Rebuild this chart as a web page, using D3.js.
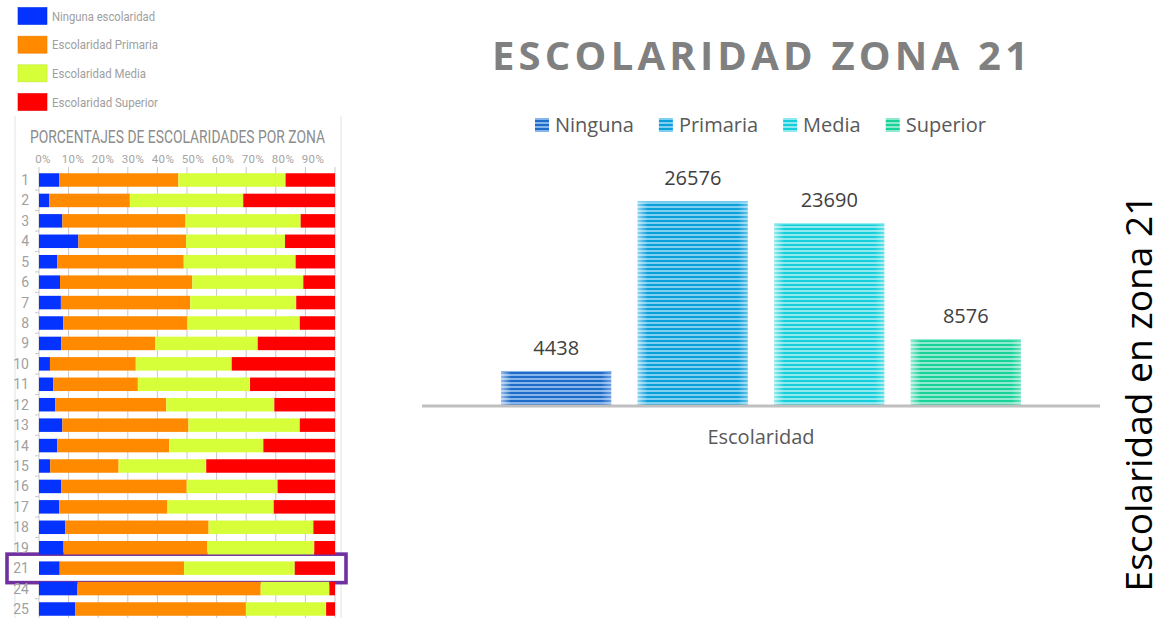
<!DOCTYPE html>
<html>
<head>
<meta charset="utf-8">
<script src="https://cdn.jsdelivr.net/npm/d3@7"></script>
<style>
  html, body { margin: 0; padding: 0; background: #fff; }
  svg { display: block; }
  .narrow { font-family: "Liberation Sans Narrow", "Roboto", "DejaVu Sans Condensed", sans-serif; }
  .sans { font-family: "Open Sans", "Noto Sans", sans-serif; }
</style>
</head>
<body>
<svg id="chart" width="1164" height="618"></svg>
<script>
// ---- Stacked percentages per zone (left panel) ----
const zones = ["1","2","3","4","5","6","7","8","9","10","11","12","13","14","15","16","17","18","19","21","24","25"];
const pctNinguna  = [6.9, 3.5, 7.9, 13.3, 6.2, 7.1, 7.4, 8.2, 7.5, 3.7, 4.8, 5.5, 7.9, 6.2, 3.8, 7.5, 6.8, 8.9, 8.3, 7.0, 13.0, 12.3];
const pctPrimaria = [40.2, 27.2, 41.6, 36.4, 42.7, 44.7, 43.7, 41.9, 31.7, 29.0, 28.6, 37.5, 42.6, 37.8, 23.1, 42.4, 36.6, 48.4, 48.6, 42.0, 61.9, 57.6];
const pctMedia    = [36.2, 38.3, 38.9, 33.4, 37.8, 37.5, 35.8, 38.0, 34.7, 32.4, 37.9, 36.5, 37.6, 31.8, 29.6, 30.7, 35.9, 35.4, 36.1, 37.4, 23.2, 27.1];
const pctSuperior = [16.7, 31.0, 11.6, 16.9, 13.3, 10.7, 13.1, 11.9, 26.1, 34.9, 28.7, 20.5, 11.9, 24.2, 43.5, 19.4, 20.7, 7.3, 7.0, 13.6, 1.9, 3.0];
const stackKeys   = ["ninguna", "primaria", "media", "superior"];
const stackNames  = ["Ninguna escolaridad", "Escolaridad Primaria", "Escolaridad Media", "Escolaridad Superior"];
const stackColors = ["#0433ff", "#ff8a00", "#d6ff3a", "#ff0000"];
const pctTicks    = [0, 10, 20, 30, 40, 50, 60, 70, 80, 90];
const highlightZone = "21";

// ---- Zone 21 counts (right panel) ----
const levels = ["Ninguna", "Primaria", "Media", "Superior"];
const counts = [4438, 26576, 23690, 8576];
const darkStripe  = ["#1f6cc8", "#0ca0db", "#15d0da", "#17d299"];
const lightStripe = ["#86b5ec", "#7fd0f0", "#8fe9ee", "#8fe9cc"];

const svg = d3.select("#chart");
const defs = svg.append("defs");

/* ================= Left panel ================= */
const left = svg.append("g");

// frame edges of the panel
[15, 341].forEach(x => left.append("line")
  .attr("x1", x).attr("x2", x).attr("y1", 116).attr("y2", 618)
  .attr("stroke", "#e2e2e2").attr("stroke-width", 1));

// legend (condensed labels)
const legY = d3.scalePoint().domain(stackKeys).range([15.5, 101.5]);
const legWidths = [103, 106, 94, 106];
stackKeys.forEach((k, i) => {
  left.append("rect")
    .attr("x", 18).attr("y", legY(k) - 8).attr("width", 29).attr("height", 17)
    .attr("fill", stackColors[i])
    .attr("stroke", d3.color(stackColors[i]).darker(0.3)).attr("stroke-width", 0.6);
  left.append("text").attr("class", "narrow")
    .attr("x", 52).attr("y", legY(k) + 5)
    .attr("font-size", 13).attr("fill", "#a0a0a0")
    .attr("textLength", legWidths[i]).attr("lengthAdjust", "spacingAndGlyphs")
    .text(stackNames[i]);
});

left.append("text").attr("class", "narrow")
  .attr("x", 30).attr("y", 143)
  .attr("font-size", 18).attr("fill", "#8c8c8c")
  .attr("textLength", 295).attr("lengthAdjust", "spacingAndGlyphs")
  .text("PORCENTAJES DE ESCOLARIDADES POR ZONA");

const xPct = d3.scaleLinear().domain([0, 100]).range([39, 335]);
const yZone = d3.scalePoint().domain(zones).range([180, 609]);
const barH = 13.5;

// gridlines
left.append("g").selectAll("line")
  .data(d3.range(0, 101, 10)).join("line")
  .attr("x1", d => xPct(d)).attr("x2", d => xPct(d))
  .attr("y1", 167).attr("y2", 618)
  .attr("stroke", "#c9c9c9").attr("stroke-width", 1);

// small row ticks on the left
left.append("g").selectAll("line")
  .data(zones.slice(1)).join("line")
  .attr("x1", 35).attr("x2", 39)
  .attr("y1", d => yZone(d) - yZone.step() / 2).attr("y2", d => yZone(d) - yZone.step() / 2)
  .attr("stroke", "#c9c9c9");

// percentage tick labels
left.append("g").selectAll("text")
  .data(pctTicks).join("text").attr("class", "narrow")
  .attr("x", d => xPct(d) + 4 + d * 0.04).attr("y", 163)
  .attr("text-anchor", "middle")
  .attr("font-size", 11.5).attr("fill", "#a3a3a3").attr("letter-spacing", 0.4)
  .text(d => d + "%");

// highlight box behind zone 21
const hy = yZone(highlightZone);
left.append("rect")
  .attr("x", 7).attr("y", hy - 14).attr("width", 339).attr("height", 28.5)
  .attr("fill", "#fff").attr("stroke", "#7030a0").attr("stroke-width", 3.6);

// stacked bars
const rows = zones.map((z, i) => ({
  zone: z, ninguna: pctNinguna[i], primaria: pctPrimaria[i], media: pctMedia[i], superior: pctSuperior[i]
}));
const series = d3.stack().keys(stackKeys)(rows);
left.append("g").selectAll("g")
  .data(series).join("g")
  .attr("fill", (d, i) => stackColors[i])
  .selectAll("rect").data(d => d).join("rect")
  .attr("x", d => xPct(d[0]))
  .attr("width", d => Math.max(0, Math.min(xPct(d[1]), xPct(100)) - xPct(d[0])))
  .attr("y", d => yZone(d.data.zone) - barH / 2)
  .attr("height", barH);

// zone labels
left.append("g").selectAll("text")
  .data(zones).join("text").attr("class", "narrow")
  .attr("x", 29).attr("y", d => yZone(d) + 5)
  .attr("text-anchor", "end")
  .attr("font-size", 14).attr("fill", "#a0a0a0")
  .text(d => d);

/* ================= Right panel ================= */
const right = svg.append("g");

// striped fills with soft light edges
levels.forEach((lv, i) => {
  const p = defs.append("pattern")
    .attr("id", "stripe" + i).attr("patternUnits", "userSpaceOnUse")
    .attr("width", 8).attr("height", 4);
  p.append("rect").attr("width", 8).attr("height", 4).attr("fill", lightStripe[i]);
  p.append("rect").attr("width", 8).attr("height", 2).attr("fill", darkStripe[i]);
});
const edge = defs.append("linearGradient").attr("id", "edgeGlow")
  .attr("x1", "0").attr("x2", "1").attr("y1", "0").attr("y2", "0");
[[0, 0.55], [0.09, 0], [0.91, 0], [1, 0.35]].forEach(([o, a]) =>
  edge.append("stop").attr("offset", o).attr("stop-color", "#fff").attr("stop-opacity", a));

right.append("text").attr("class", "sans").attr("id", "mainTitle")
  .attr("x", 760).attr("y", 70)
  .attr("text-anchor", "middle")
  .attr("font-size", 40).attr("font-weight", 700).attr("fill", "#808080")
  .text("ESCOLARIDAD ZONA 21");

const xLv = d3.scaleBand().domain(levels).range([422, 1100]).paddingInner(0.194).paddingOuter(0.58);
const yCnt = d3.scaleLinear().domain([0, 30000]).range([405, 175]);

const bars = right.append("g").selectAll("g")
  .data(levels.map((lv, i) => ({ lv, v: counts[i], i }))).join("g");
bars.append("rect")
  .attr("x", d => xLv(d.lv)).attr("width", xLv.bandwidth())
  .attr("y", d => yCnt(d.v)).attr("height", d => yCnt(0) - yCnt(d.v))
  .attr("fill", d => `url(#stripe${d.i})`);
bars.append("rect")
  .attr("x", d => xLv(d.lv)).attr("width", xLv.bandwidth())
  .attr("y", d => yCnt(d.v)).attr("height", d => yCnt(0) - yCnt(d.v))
  .attr("fill", "url(#edgeGlow)");
bars.append("line")
  .attr("x1", d => xLv(d.lv)).attr("x2", d => xLv(d.lv) + xLv.bandwidth())
  .attr("y1", d => yCnt(d.v) + 0.5).attr("y2", d => yCnt(d.v) + 0.5)
  .attr("stroke", d => lightStripe[d.i]).attr("stroke-width", 1);
bars.append("text").attr("class", "sans")
  .attr("x", d => xLv(d.lv) + xLv.bandwidth() / 2)
  .attr("y", d => yCnt(d.v) - 16)
  .attr("text-anchor", "middle")
  .attr("font-size", 20).attr("fill", "#404040")
  .text(d => d.v);

// category axis line
right.append("line")
  .attr("x1", 422).attr("x2", 1100).attr("y1", yCnt(0) + 1).attr("y2", yCnt(0) + 1)
  .attr("stroke", "#bfbfbf").attr("stroke-width", 3);

right.append("text").attr("class", "sans")
  .attr("x", 761).attr("y", 444).attr("text-anchor", "middle")
  .attr("font-size", 20).attr("fill", "#595959")
  .text("Escolaridad");

// legend
const leg = right.append("g");
let lx = 0;
levels.forEach((lv, i) => {
  const g = leg.append("g").attr("transform", `translate(${lx},0)`);
  g.append("rect").attr("x", 0).attr("y", 118).attr("width", 14).attr("height", 14)
    .attr("fill", `url(#stripe${i})`);
  const t = g.append("text").attr("class", "sans")
    .attr("x", 20).attr("y", 132)
    .attr("font-size", 20).attr("fill", "#595959")
    .text(lv);
  lx += 20 + t.node().getComputedTextLength() + 25;
});
const legW = lx - 25;
leg.attr("transform", `translate(${535},0)`);
leg.attr("transform", `translate(${Math.min(535, 766 - legW / 2)},0)`);

// vertical side title
const side = right.append("text").attr("class", "sans")
  .attr("transform", "translate(1152,393) rotate(-90)")
  .attr("text-anchor", "middle")
  .attr("font-size", 30).attr("fill", "#000")
  .text("Escolaridad en zona 21");
const sideLen = side.node().getComputedTextLength();
side.attr("font-size", 30 * 397 / sideLen);

// title letter spacing to span its width
const title = d3.select("#mainTitle");
const tw = title.node().getComputedTextLength();
const chars = "ESCOLARIDAD ZONA 21".length;
title.attr("letter-spacing", Math.max(0, (536 - tw) / (chars - 1)));
title.attr("x", 760 + Math.max(0, (536 - tw) / (chars - 1)) / 2);
</script>
</body>
</html>
